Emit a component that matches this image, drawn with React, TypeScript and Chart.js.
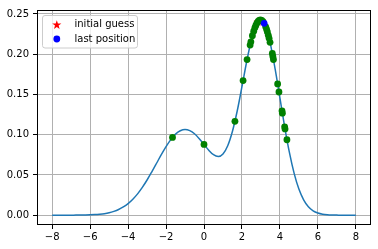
import React, { useEffect, useRef } from 'react';
import { Chart, registerables } from 'chart.js';

Chart.register(...registerables);

const curveX = [-8, -7.75, -7.5, -7.25, -7, -6.75, -6.5, -6.25, -6, -5.75, -5.5, -5.25, -5, -4.75, -4.5, -4.25, -4, -3.75, -3.5, -3.25, -3, -2.75, -2.5, -2.25, -2, -1.75, -1.5, -1.25, -1, -0.75, -0.5, -0.25, 0, 0.25, 0.5, 0.75, 1, 1.25, 1.5, 1.75, 2, 2.25, 2.5, 2.75, 3, 3.25, 3.5, 3.75, 4, 4.25, 4.5, 4.75, 5, 5.25, 5.5, 5.75, 6, 6.25, 6.5, 6.75, 7, 7.25, 7.5, 7.75, 8];
const curveY = [0.0, 0.0, 0.0, 0.0, 0.0, 0.0001, 0.0001, 0.0002, 0.0004, 0.0007, 0.0012, 0.0019, 0.003, 0.0047, 0.007, 0.0102, 0.0144, 0.0198, 0.0265, 0.0345, 0.0437, 0.0539, 0.0645, 0.0752, 0.0852, 0.0939, 0.1007, 0.1049, 0.1065, 0.1051, 0.1012, 0.0951, 0.0879, 0.0807, 0.0751, 0.0729, 0.0761, 0.0863, 0.1043, 0.1294, 0.1596, 0.1909, 0.2183, 0.2367, 0.2424, 0.234, 0.2125, 0.1814, 0.1456, 0.1098, 0.0779, 0.0519, 0.0324, 0.0191, 0.0105, 0.0055, 0.0027, 0.0012, 0.0005, 0.0002, 0.0001, 0.0, 0.0, 0.0, 0.0];

const pathX = [-1.66, 0.0, 1.63, 2.06, 2.27, 2.43, 2.47, 2.55, 2.62, 2.68, 2.73, 2.79, 2.85, 2.91, 2.97, 3.04, 3.11, 3.25, 3.3, 3.34, 3.39, 3.43, 3.48, 3.6, 3.63, 3.66, 3.88, 3.95, 4.11, 4.13, 4.25, 4.27, 4.37];
const pathY = [0.0966, 0.0879, 0.1166, 0.1672, 0.1933, 0.2113, 0.2154, 0.2229, 0.2285, 0.2328, 0.2357, 0.2386, 0.2407, 0.242, 0.2425, 0.242, 0.2405, 0.234, 0.2307, 0.2277, 0.2235, 0.2197, 0.2147, 0.201, 0.1972, 0.1934, 0.1631, 0.153, 0.1296, 0.1267, 0.1098, 0.1071, 0.0937];

const guessX = [2.85];
const guessY = [0.2407];
const lastX = [3.17];
const lastY = [0.2383];

const xTicks = [-8, -6, -4, -2, 0, 2, 4, 6, 8];
const yTicks = [0, 0.05, 0.1, 0.15, 0.2, 0.25];
const legendLabels = ['initial guess', 'last position'];

const FONT = '"DejaVu Sans", sans-serif';

function drawStar(ctx: CanvasRenderingContext2D, cx: number, cy: number, ro: number, ri: number, color: string) {
  ctx.beginPath();
  for (let i = 0; i < 10; i++) {
    const r = i % 2 === 0 ? ro : ri;
    const a = -Math.PI / 2 + (i * Math.PI) / 5;
    const px = cx + r * Math.cos(a);
    const py = cy + r * Math.sin(a);
    if (i === 0) ctx.moveTo(px, py);
    else ctx.lineTo(px, py);
  }
  ctx.closePath();
  ctx.fillStyle = color;
  ctx.fill();
}

function makeStarImage(): HTMLCanvasElement {
  const c = document.createElement('canvas');
  c.width = 12;
  c.height = 12;
  const ctx = c.getContext('2d')!;
  drawStar(ctx, 6, 6.5, 4.8, 1.9, '#ff0000');
  return c;
}

const zip = (xs: number[], ys: number[]) => xs.map((x, i) => ({ x, y: ys[i] }));

const framePlugin = {
  id: 'frameAndLegend',
  afterDraw(chart: any) {
    const { ctx, chartArea } = chart;
    ctx.save();
    // frame
    ctx.strokeStyle = '#000';
    ctx.lineWidth = 1;
    const l = Math.round(chartArea.left) + 0.5;
    const t = Math.round(chartArea.top) + 0.5;
    const r = Math.round(chartArea.right) - 0.5;
    const b = Math.round(chartArea.bottom) - 0.5;
    ctx.strokeRect(l, t, r - l, b - t);
    // legend
    const bx = chartArea.left + 5.5;
    const by = chartArea.top + 5.5;
    const bw = 95;
    const bh = 32.5;
    ctx.beginPath();
    (ctx as any).roundRect(bx, by, bw, bh, 2.5);
    ctx.fillStyle = 'rgba(255,255,255,0.8)';
    ctx.fill();
    ctx.strokeStyle = '#cccccc';
    ctx.lineWidth = 1;
    ctx.stroke();
    const mx = bx + 14.3;
    const y1 = by + 9;
    const y2 = by + 23.5;
    drawStar(ctx, mx, y1 + 0.5, 4.8, 1.9, '#ff0000');
    ctx.beginPath();
    ctx.arc(mx, y2, 3.4, 0, Math.PI * 2);
    ctx.fillStyle = '#0000ff';
    ctx.fill();
    ctx.fillStyle = '#000';
    ctx.font = `10px ${FONT}`;
    ctx.textBaseline = 'middle';
    ctx.textAlign = 'left';
    ctx.fillText(legendLabels[0], bx + 32, y1);
    ctx.fillText(legendLabels[1], bx + 32, y2);
    ctx.restore();
  },
};

export default function App() {
  const ref = useRef<HTMLCanvasElement | null>(null);

  useEffect(() => {
    if (!ref.current) return;
    const starImg = makeStarImage();
    const chart = new Chart(ref.current, {
      type: 'scatter',
      data: {
        datasets: [
          {
            label: 'curve',
            data: zip(curveX, curveY),
            showLine: true,
            borderColor: '#1f77b4',
            borderWidth: 1.5,
            pointRadius: 0,
            cubicInterpolationMode: 'monotone',
            order: 4,
          } as any,
          {
            label: legendLabels[0],
            data: zip(guessX, guessY),
            pointStyle: starImg as any,
            pointRadius: 5,
            backgroundColor: '#ff0000',
            borderColor: '#ff0000',
            order: 3,
          },
          {
            label: 'path',
            data: zip(pathX, pathY),
            pointRadius: 3.4,
            borderWidth: 0,
            backgroundColor: '#008000',
            borderColor: '#008000',
            order: 2,
          },
          {
            label: legendLabels[1],
            data: zip(lastX, lastY),
            pointRadius: 3.4,
            borderWidth: 0,
            backgroundColor: '#0000ff',
            borderColor: '#0000ff',
            order: 1,
          },
        ],
      },
      options: {
        animation: false,
        responsive: true,
        maintainAspectRatio: false,
        events: [],
        layout: { padding: { top: 7, right: 7, left: 0, bottom: 0 } },
        plugins: {
          legend: { display: false },
          tooltip: { enabled: false },
        },
        scales: {
          x: {
            type: 'linear',
            min: -8.8,
            max: 8.8,
            afterBuildTicks: (s: any) => {
              s.ticks = xTicks.map((v) => ({ value: v }));
            },
            afterFit: (s: any) => {
              s.height = 24;
            },
            ticks: {
              color: '#000',
              font: { family: FONT, size: 10 },
              padding: 2,
              maxRotation: 0,
              autoSkip: false,
              callback: (v: any) => String(v).replace('-', '\u2212'),
            },
            grid: {
              color: '#b0b0b0',
              lineWidth: 1,
              drawTicks: true,
              tickLength: 4,
              tickColor: '#000',
              tickWidth: 1,
            },
            border: { display: false },
          },
          y: {
            type: 'linear',
            min: -0.0122,
            max: 0.2549,
            afterBuildTicks: (s: any) => {
              s.ticks = yTicks.map((v) => ({ value: v }));
            },
            afterFit: (s: any) => {
              s.width = 37;
            },
            ticks: {
              color: '#000',
              font: { family: FONT, size: 10 },
              padding: 4,
              autoSkip: false,
              callback: (v: any) => Number(v).toFixed(2),
            },
            grid: {
              color: '#b0b0b0',
              lineWidth: 1,
              drawTicks: true,
              tickLength: 4,
              tickColor: '#000',
              tickWidth: 1,
            },
            border: { display: false },
          },
        },
      },
      plugins: [framePlugin],
    });
    return () => chart.destroy();
  }, []);

  return (
    <div style={{ position: 'absolute', left: 0, top: 0, width: 378, height: 249, background: '#fff' }}>
      <canvas ref={ref} />
    </div>
  );
}
